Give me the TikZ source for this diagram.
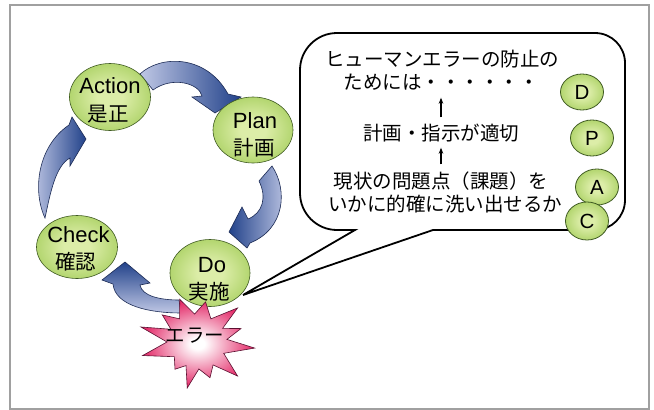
\documentclass[tikz,border=0pt]{standalone}
\usepackage{fontspec}
\setmainfont{Liberation Sans}
\newfontfamily\jp{Noto Sans CJK JP}
\usetikzlibrary{shapes.geometric,arrows.meta,calc}

\definecolor{gl}{HTML}{DCEDA8}
\definecolor{gm}{HTML}{A2CC58}
\definecolor{gd}{HTML}{78AC32}
\definecolor{gline}{HTML}{3F5A22}
\definecolor{bl}{HTML}{BFC7E5}
\definecolor{bd}{HTML}{22428A}
\definecolor{bline}{HTML}{1C2B55}
\definecolor{pk}{HTML}{E42F6C}
\definecolor{pkline}{HTML}{5A1030}
\definecolor{framec}{HTML}{A0A0A0}

\pgfdeclareradialshading{greenball}{\pgfpoint{0bp}{0bp}}{color(0bp)=(gl); color(8bp)=(gl); color(32bp)=(gm); color(50bp)=(gd)}
\pgfdeclareradialshading{pinkstar}{\pgfpoint{0bp}{0bp}}{color(0bp)=(white); color(3bp)=(white); color(24bp)=(pk); color(50bp)=(pk)}

\begin{document}
\begin{tikzpicture}[x=1pt,y=-1pt,
  ball/.style={ellipse, draw=gline, line width=0.6pt, shade, shading=greenball, minimum width=81pt, minimum height=67pt, inner sep=0pt},
  sball/.style={ellipse, draw=gline, line width=0.8pt, shade, shading=greenball, minimum width=43pt, minimum height=36pt, inner sep=0pt, font=\fontsize{20.5}{20.5}\selectfont},
  lat/.style={anchor=base, inner sep=0pt, font=\fontsize{22}{22}\selectfont},
  jpl/.style={anchor=base, inner sep=0pt, font=\jp\fontsize{20.5}{20.5}\selectfont},
  barrow/.style={draw=bline, line width=0.6pt},
  btxt/.style={inner sep=0pt, font=\jp\fontsize{19.5}{19.5}\selectfont, text height=16pt, text depth=3pt},
  tarrow/.style={-{Stealth[length=6pt,width=4.5pt]}, line width=1.1pt},
]
\useasboundingbox (0,0) rectangle (654,410);
\fill[white] (0,0) rectangle (654,410);
\draw[framec, line width=1.2pt] (10,5) rectangle (649,409);

% block arrows
\path[barrow, left color=bl, right color=bd]
  (140,74) .. controls (160,55) and (206,54) .. (228,94) -- (241,97) -- (215,113) -- (192,97) -- (202,96)
  .. controls (199,83) and (172,76) .. (153,90) -- cycle;
\path[barrow, left color=bd, right color=bl]
  (272,166) .. controls (288,190) and (285,229) .. (250,243) -- (247,248) -- (229,232) -- (242,207) -- (248,219)
  .. controls (263,213) and (267,197) .. (259,181) -- cycle;
\path[barrow, top color=bd, bottom color=bl]
  (181,313) .. controls (150,313) and (115,306) .. (113,284) -- (102,280) -- (125,262) -- (150,283) -- (140,285)
  .. controls (142,296) and (160,300) .. (179,300) -- cycle;
\path[barrow, left color=bl, right color=bd]
  (45,218) .. controls (32,190) and (38,146) .. (69,125) -- (72,117) -- (86,139) -- (70,166) -- (70,158)
  .. controls (55,166) and (50,195) .. (45,218) -- cycle;

% PDCA circles
\node[ball] (act) at (110,97) {};
\node[ball, minimum width=80pt, minimum height=66pt] (plan) at (253,130) {};
\node[ball, minimum width=80pt] (do) at (210,273) {};
\node[ball, minimum height=63pt] (chk) at (77,247) {};

\node[lat] (actA) at (110,93) {Action};
\node[jpl] (actB) at (108,121.5) {是正};
\node[lat] (planA) at (255,128) {Plan};
\node[jpl] (planB) at (254,155) {計画};
\node[lat] (doA) at (212,272) {Do};
\node[jpl] (doB) at (209,299) {実施};
\node[lat] (chkA) at (78.5,242) {Check};
\node[jpl] (chkB) at (76,269) {確認};

% error star
\coordinate (S) at (197,342);
\path[draw=pkline, line width=0.6pt, shade, shading=pinkstar, shift={(S)}]
  (-112:46) -- (-95:28) -- (-78:41) -- (-59:27) -- (-40:53) -- (-28:29) -- (-17:46) -- (-5:30)
  -- (6:58) -- (23:29) -- (40:53) -- (55:28) -- (70:38) -- (86:27) -- (102:47) -- (115:26)
  -- (129:35) -- (147:27) -- (166:56) -- (180:30) -- (195:58) -- (206:29) -- (218:44) -- (233:29) -- cycle;
\node[inner sep=0pt, font=\jp\fontsize{19.5}{19.5}\selectfont] (err) at (195,336) {エラー};

% speech bubble
\draw[line width=1.8pt, line join=miter]
  (433,230) -- (595,230) .. controls (611.6,230) and (625,216.6) .. (625,200)
  -- (625,63) .. controls (625,46.4) and (611.6,33) .. (595,33)
  -- (337,33) .. controls (316.6,33) and (300,49.6) .. (300,70)
  -- (300,193) .. controls (300,213.4) and (316.6,230) .. (337,230)
  -- (355,230) -- (243,295) -- cycle;

\node[btxt] (l1) at (442,60) {ヒューマンエラーの防止の};
\node[btxt] (l2) at (441,83) {ためには・・・・・・};
\node[btxt] (l3) at (441,134) {計画・指示が適切};
\node[btxt] (l4) at (441,182) {現状の問題点（課題）を};
\node[btxt] (l5) at (445,205) {いかに的確に洗い出せるか};
\draw[tarrow, shorten <=7pt, shorten >=5pt] (l3.north) -- (l2.south);
\draw[tarrow, shorten <=8pt, shorten >=4pt] (l4.north) -- (l3.south);

% small PDCA circles
\node[sball] (sD) at (582,92) {D};
\node[sball] (sP) at (592,138) {P};
\node[sball] (sA) at (597,187) {A};
\node[sball, minimum height=38pt] (sC) at (587,221) {C};
\end{tikzpicture}
\end{document}
